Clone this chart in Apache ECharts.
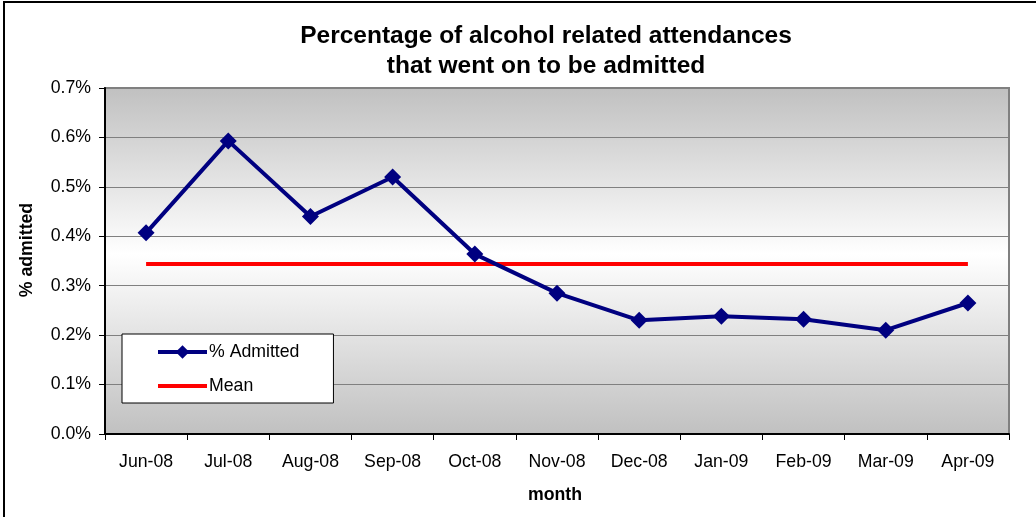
<!DOCTYPE html>
<html>
<head>
<meta charset="utf-8">
<script src="https://cdn.jsdelivr.net/npm/echarts@6/dist/echarts.min.js"></script>
<style>
  html, body { margin: 0; padding: 0; background: #fff; overflow: hidden; }
  #frame { position: absolute; left: 3px; top: 1px; width: 1100px; height: 600px;
           border-left: 2px solid #000; border-top: 2px solid #000; }
  #chart { position: absolute; left: 0; top: 0; width: 1036px; height: 517px; }
</style>
</head>
<body>
<div id="frame"></div>
<div id="chart"></div>
<script>
// Monthly share of alcohol-related attendances that were admitted (%)
const months = ['Jun-08', 'Jul-08', 'Aug-08', 'Sep-08', 'Oct-08', 'Nov-08',
                'Dec-08', 'Jan-09', 'Feb-09', 'Mar-09', 'Apr-09'];
const admitted = [0.407, 0.593, 0.440, 0.520, 0.364, 0.285, 0.230, 0.238, 0.232, 0.210, 0.265];
const meanLine = [0.344, 0.344, 0.344, 0.344, 0.344, 0.344, 0.344, 0.344, 0.344, 0.344, 0.344];
const yTicks = [0, 0.1, 0.2, 0.3, 0.4, 0.5, 0.6, 0.7];

const FONT = '"Liberation Sans", Arial, sans-serif';
const LABEL_SIZE = 17.7;
const chart = echarts.init(document.getElementById('chart'), null, { renderer: 'canvas' });

chart.setOption({
  animation: false,
  textStyle: { fontFamily: FONT },
  title: {
    text: 'Percentage of alcohol related attendances\nthat went on to be admitted',
    left: 546, top: 21, padding: 0, textAlign: 'center',
    textStyle: { fontFamily: FONT, fontSize: 24.5, fontWeight: 'bold', color: '#000', lineHeight: 30 }
  },
  grid: {
    left: 105, right: 27, top: 88, bottom: 83,
    show: true,
    borderColor: '#808080', borderWidth: 2,
    backgroundColor: new echarts.graphic.LinearGradient(0, 0, 0, 1, [
      { offset: 0, color: '#c0c0c0' },
      { offset: 0.48, color: '#ffffff' },
      { offset: 1, color: '#c0c0c0' }
    ])
  },
  legend: {
    orient: 'vertical', left: 122, top: 334,
    backgroundColor: '#fff', borderColor: '#000', borderWidth: 1,
    padding: [9, 34, 8, 34],
    itemWidth: 49, itemHeight: 17, itemGap: 16,
    lineStyle: { width: 4 },
    textStyle: { fontFamily: FONT, fontSize: LABEL_SIZE, color: '#000', padding: [0, 0, 0, -3] },
    data: [
      { name: '% Admitted' },
      { name: 'Mean', itemStyle: { opacity: 0 } }
    ]
  },
  xAxis: {
    type: 'category', data: months, boundaryGap: true,
    axisLine: { lineStyle: { color: '#000', width: 2 } },
    axisTick: { show: true, length: 6, lineStyle: { color: '#000', width: 1 } },
    axisLabel: { fontFamily: FONT, fontSize: LABEL_SIZE, color: '#000', margin: 19, interval: 0 },
    splitLine: { show: false }
  },
  yAxis: {
    type: 'value', min: 0, max: 0.7, interval: 0.1,
    axisLine: { show: true, lineStyle: { color: '#000', width: 2 } },
    axisTick: { show: true, length: 6, lineStyle: { color: '#000', width: 1 } },
    axisLabel: {
      fontFamily: FONT, fontSize: LABEL_SIZE, color: '#000', margin: 14,
      formatter: v => yTicks.includes(Math.round(v * 10) / 10) ? v.toFixed(1) + '%' : ''
    },
    splitLine: { show: true, lineStyle: { color: '#808080', width: 1 } }
  },
  graphic: [
    {
      type: 'text', x: 27, y: 250, rotation: Math.PI / 2,
      style: { text: '% admitted', font: 'bold ' + LABEL_SIZE + 'px ' + FONT, fill: '#000',
               align: 'center', verticalAlign: 'middle' }
    },
    {
      type: 'text', x: 555, y: 495,
      style: { text: 'month', font: 'bold ' + LABEL_SIZE + 'px ' + FONT, fill: '#000',
               align: 'center', verticalAlign: 'middle' }
    }
  ],
  series: [
    {
      name: '% Admitted', type: 'line', data: admitted,
      symbol: 'diamond', symbolSize: 17,
      lineStyle: { color: '#000080', width: 4 },
      itemStyle: { color: '#000080' },
      z: 3
    },
    {
      name: 'Mean', type: 'line', data: meanLine,
      symbol: 'none', showSymbol: false,
      lineStyle: { color: '#ff0000', width: 4 },
      itemStyle: { color: '#ff0000' },
      z: 2
    }
  ]
});
</script>
</body>
</html>
